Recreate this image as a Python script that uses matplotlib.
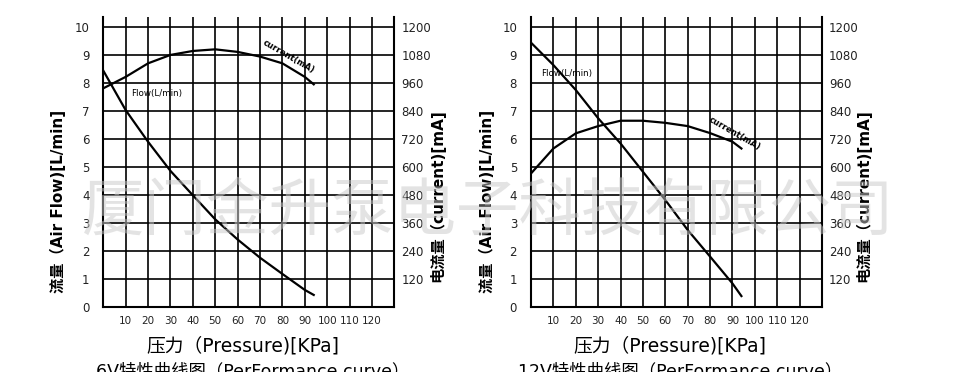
import matplotlib
matplotlib.use("Agg")
import matplotlib.pyplot as plt

plt.rcParams['font.family'] = ['DejaVu Sans', 'Noto Sans CJK SC']

pressure = [0, 10, 20, 30, 40, 50, 60, 70, 80, 90, 94]
flow_6v = [8.43, 7.02, 5.89, 4.85, 3.98, 3.12, 2.4, 1.75, 1.17, 0.6, 0.42]
current_6v = [936, 985, 1043, 1079, 1096, 1103, 1092, 1072, 1043, 985, 953]
flow_12v = [9.43, 8.63, 7.74, 6.73, 5.83, 4.82, 3.81, 2.74, 1.79, 0.83, 0.38]
current_12v = [571, 678, 743, 774, 797, 797, 788, 774, 744, 707, 678]

x_ticks = [10, 20, 30, 40, 50, 60, 70, 80, 90, 100, 110, 120]
flow_ticks = list(range(0, 11))
current_ticks = [120, 240, 360, 480, 600, 720, 840, 960, 1080, 1200]

titles = ["6V特性曲线图（PerFormance curve）", "12V特性曲线图（PerFormance curve）"]
xlabel = "压力（Pressure)[KPa]"
ylabel_left = "流量（Air Flow)[L/min]"
ylabel_right = "电流量（current)[mA]"
watermark = "厦门金升泵电子科技有限公司"

fig = plt.figure(figsize=(9.6, 3.72), dpi=100)

W, H = 960, 372
ytop = 10 + (26.7 - 17.3) / 28.0

panels = [
    dict(x0=103.3, flow=flow_6v, cur=current_6v, title=titles[0],
         flow_lbl=(12.5, 7.62), cur_lbl=(82.9, 8.92), ylx=58, yrx=437,
         xlx=243, tx=253),
    dict(x0=531.0, flow=flow_12v, cur=current_12v, title=titles[1],
         flow_lbl=(4.5, 8.33), cur_lbl=(90.8, 6.17), ylx=487, yrx=863,
         xlx=670, tx=680),
]

for p in panels:
    ax = fig.add_axes([p['x0'] / W, 65.3 / H, 291.0 / W, (354.7 - 65.3) / H])
    ax.set_xlim(0, 130)
    ax.set_ylim(0, ytop)
    ax.set_xticks(range(0, 131, 10))
    ax.set_xticklabels([''] + [str(t) for t in x_ticks] + [''])
    ax.set_yticks(flow_ticks)
    ax.set_yticklabels([str(t) for t in flow_ticks])
    ax.grid(True, color='black', linewidth=1.2)
    ax.set_axisbelow(True)
    ax.tick_params(length=0, labelsize=8.5, pad=10, labelcolor='#222222')
    ax.tick_params(axis='x', labelsize=7.5, pad=7)
    for s in ['left', 'right', 'bottom']:
        ax.spines[s].set_linewidth(1.5)
    ax.spines['top'].set_visible(False)

    ax2 = ax.twinx()
    ax2.set_ylim(0, ytop * 120)
    ax2.set_yticks(current_ticks)
    ax2.set_yticklabels([str(t) for t in current_ticks])
    ax2.tick_params(length=0, labelsize=8.5, pad=5, labelcolor='#222222')
    for s in ax2.spines.values():
        s.set_visible(False)

    ax.plot(pressure, p['flow'], color='black', linewidth=1.6, zorder=5)
    ax2.plot(pressure, p['cur'], color='black', linewidth=1.6, zorder=5)

    ax.text(p['flow_lbl'][0], p['flow_lbl'][1], "Flow(L/min)", fontsize=6.3,
            va='center', ha='left', zorder=6)
    ax.text(p['cur_lbl'][0], p['cur_lbl'][1], "current(mA)", fontsize=6,
            weight='bold', rotation=-30, va='center', ha='center', zorder=6)

    fig.text(p['ylx'] / W, 1 - 201 / H, ylabel_left, rotation=90, fontsize=11,
             weight='bold', ha='center', va='center')
    fig.text(p['yrx'] / W, 1 - 196 / H, ylabel_right, rotation=90, fontsize=11,
             weight='bold', ha='center', va='center')
    fig.text(p['xlx'] / W, 1 - 346 / H, xlabel, fontsize=13.5,
             ha='center', va='center')
    fig.text(p['tx'] / W, 1 - 371 / H, p['title'], fontsize=12.5,
             ha='center', va='center')

fig.text(488 / W, 1 - 212 / H, watermark, fontsize=45, color='#c8c8c8',
         alpha=0.5, ha='center', va='center', family='Noto Sans CJK SC',
         weight='light', zorder=20)

fig.savefig("out.png", dpi=100)
